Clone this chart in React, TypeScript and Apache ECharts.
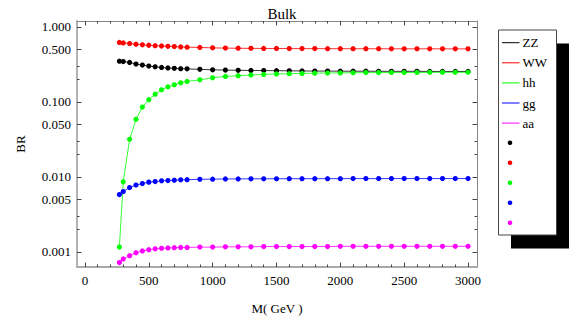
import React, { useEffect, useRef } from "react";
import * as echarts from "echarts";

const masses = [270, 300, 350, 400, 450, 500, 550, 600, 650, 700, 750, 800, 900, 1000, 1100, 1200, 1300, 1400, 1500, 1600, 1700, 1800, 1900, 2000, 2100, 2200, 2300, 2400, 2500, 2600, 2700, 2800, 2900, 3000];

const brZZ = [0.350, 0.346, 0.336, 0.320, 0.310, 0.301, 0.294, 0.288, 0.284, 0.281, 0.278, 0.276, 0.272, 0.268, 0.266, 0.264, 0.263, 0.262, 0.261, 0.260, 0.259, 0.258, 0.258, 0.257, 0.257, 0.257, 0.256, 0.256, 0.256, 0.256, 0.255, 0.255, 0.255, 0.255];
const brWW = [0.621, 0.612, 0.601, 0.589, 0.578, 0.570, 0.563, 0.557, 0.552, 0.547, 0.542, 0.538, 0.532, 0.526, 0.522, 0.520, 0.518, 0.517, 0.516, 0.515, 0.514, 0.514, 0.513, 0.513, 0.512, 0.512, 0.512, 0.511, 0.511, 0.511, 0.511, 0.510, 0.510, 0.510];
const brHH = [0.00116, 0.0086, 0.0318, 0.0587, 0.0855, 0.107, 0.127, 0.145, 0.159, 0.169, 0.180, 0.188, 0.197, 0.210, 0.219, 0.224, 0.229, 0.233, 0.236, 0.238, 0.240, 0.242, 0.243, 0.244, 0.245, 0.246, 0.246, 0.247, 0.247, 0.247, 0.248, 0.248, 0.248, 0.248];
const brGG = [0.00583, 0.00639, 0.00723, 0.00778, 0.00817, 0.00853, 0.00869, 0.00888, 0.00896, 0.00906, 0.00915, 0.00918, 0.00930, 0.00935, 0.00940, 0.00942, 0.00944, 0.00945, 0.00946, 0.00947, 0.00948, 0.00948, 0.00949, 0.00949, 0.00950, 0.00950, 0.00950, 0.00951, 0.00951, 0.00951, 0.00951, 0.00952, 0.00952, 0.00952];
const brAA = [0.000721, 0.000807, 0.000893, 0.000979, 0.00103, 0.00107, 0.00110, 0.00112, 0.00113, 0.00114, 0.00115, 0.00115, 0.00116, 0.00116, 0.00117, 0.00117, 0.00117, 0.00118, 0.00118, 0.00118, 0.00118, 0.00118, 0.00118, 0.00119, 0.00119, 0.00119, 0.00119, 0.00119, 0.00119, 0.00119, 0.00119, 0.00119, 0.00119, 0.00119];

const seriesNames = ["ZZ", "WW", "hh", "gg", "aa"];
const seriesColors = ["#000000", "#ff0000", "#00ff00", "#0000ff", "#ff00ff"];
const seriesValues = [brZZ, brWW, brHH, brGG, brAA];

const xMajorTicks = [0, 500, 1000, 1500, 2000, 2500, 3000];
const xMinorTicks = Array.from({ length: 31 }, (_, i) => i * 100);
const yMajorTicks = [0.001, 0.005, 0.01, 0.05, 0.1, 0.5, 1];
const yMinorTicks = [0.002, 0.003, 0.02, 0.03, 0.2, 0.3];

const titleText = "Bulk";
const xName = "M( GeV )";
const yName = "BR";

const FONT = "Liberation Serif";
const X_MIN = -62;
const X_MAX = 3070;
const Y_MIN = 0.00063;
const Y_MAX = 1.2;

export default function App() {
  const ref = useRef<HTMLDivElement>(null);
  useEffect(() => {
    if (!ref.current) return;
    const chart = echarts.init(ref.current, undefined, { renderer: "svg" });

    const tickStyle = { color: "#444", width: 1 };

    const xAxisBase = (pos: string, ticks: number[], len: number, withLabel: boolean, line: any) => ({
      type: "value",
      position: pos,
      min: X_MIN,
      max: X_MAX,
      splitLine: { show: false },
      axisLine: line,
      axisTick: { show: true, inside: true, length: len, customValues: ticks, lineStyle: tickStyle },
      axisLabel: withLabel
        ? {
            show: true,
            customValues: xMajorTicks,
            margin: 7,
            color: "#000",
            fontFamily: FONT,
            fontSize: 13,
            formatter: (v: number) => String(Math.round(v)),
          }
        : { show: false },
    });
    const yAxisBase = (pos: string, ticks: number[], len: number, withLabel: boolean, line: any) => ({
      type: "log",
      logBase: 10,
      position: pos,
      min: Y_MIN,
      max: Y_MAX,
      splitLine: { show: false },
      axisLine: line,
      axisTick: { show: true, inside: true, length: len, customValues: ticks, lineStyle: tickStyle },
      axisLabel: withLabel
        ? {
            show: true,
            customValues: yMajorTicks,
            margin: 6,
            color: "#000",
            fontFamily: FONT,
            fontSize: 13,
            formatter: (v: number) => Number(v).toFixed(3),
          }
        : { show: false },
    });

    const thickLine = { show: true, onZero: false, lineStyle: { color: "#aaaaaa", width: 1.8 } };
    const thinLine = { show: true, onZero: false, lineStyle: { color: "#888888", width: 1 } };
    const noLine = { show: false, onZero: false };

    const xAxes: any[] = [
      {
        ...xAxisBase("bottom", xMajorTicks, 4.5, true, thickLine),
        name: xName,
        nameLocation: "middle",
        nameGap: 35,
        nameTextStyle: { color: "#000", fontFamily: FONT, fontSize: 13 },
      },
      xAxisBase("top", xMajorTicks, 4.5, false, thinLine),
      xAxisBase("bottom", xMinorTicks, 2.5, false, noLine),
      xAxisBase("top", xMinorTicks, 2.5, false, noLine),
    ];
    const yAxes: any[] = [
      {
        ...yAxisBase("left", yMajorTicks, 4.5, true, thickLine),
        name: yName,
        nameLocation: "middle",
        nameGap: 50,
        nameRotate: 90,
        nameTextStyle: { color: "#000", fontFamily: FONT, fontSize: 13 },
      },
      yAxisBase("right", yMajorTicks, 4.5, false, thinLine),
      yAxisBase("left", yMinorTicks, 2.5, false, noLine),
      yAxisBase("right", yMinorTicks, 2.5, false, noLine),
    ];

    const series: any[] = [];
    seriesValues.forEach((vals, i) => {
      series.push({
        name: seriesNames[i],
        type: "line",
        xAxisIndex: 0,
        yAxisIndex: 0,
        data: masses.map((m, j) => [m, vals[j]]),
        showSymbol: false,
        symbol: "none",
        lineStyle: { color: seriesColors[i], width: 1, opacity: 0.8 },
        itemStyle: { color: seriesColors[i] },
        z: 2,
        silent: true,
      });
    });
    seriesValues.forEach((vals, i) => {
      series.push({
        name: seriesNames[i] + " points",
        type: "scatter",
        xAxisIndex: 0,
        yAxisIndex: 0,
        data: masses.map((m, j) => [m, vals[j]]),
        symbol: "circle",
        symbolSize: 5.2,
        itemStyle: { color: seriesColors[i], opacity: 1 },
        z: 3,
        silent: true,
      });
    });

    // legend built from graphics
    const lgX = 498.5;
    const lgY = 30;
    const lgW = 58;
    const lgH = 205;
    const legendChildren: any[] = [
      { type: "rect", shape: { x: lgX + 12.5, y: lgY + 13.5, width: lgW, height: lgH }, style: { fill: "#000" } },
      { type: "rect", shape: { x: lgX, y: lgY, width: lgW, height: lgH }, style: { fill: "#fff", stroke: "#444", lineWidth: 1 } },
    ];
    seriesNames.forEach((n, i) => {
      const yy = lgY + 12.7 + i * 20.1;
      legendChildren.push({
        type: "line",
        shape: { x1: lgX + 3.5, y1: yy, x2: lgX + 21, y2: yy },
        style: { stroke: seriesColors[i], lineWidth: 1 },
      });
      legendChildren.push({
        type: "text",
        style: { x: lgX + 24, y: yy, text: n, fill: "#000", font: `13px "${FONT}"`, verticalAlign: "middle", align: "left" },
      });
    });
    seriesNames.forEach((n, i) => {
      const yy = lgY + 112.7 + i * 20;
      legendChildren.push({
        type: "circle",
        shape: { cx: lgX + 11.5, cy: yy, r: 2.3 },
        style: { fill: seriesColors[i] },
      });
    });

    chart.setOption({
      animation: false,
      backgroundColor: "#fff",
      title: {
        text: titleText,
        left: 277,
        top: 1,
        textAlign: "center",
        textStyle: { fontFamily: FONT, fontSize: 15, fontWeight: "normal", color: "#000" },
      },
      grid: { left: 77, right: 104, top: 21, bottom: 61, containLabel: false },
      xAxis: xAxes,
      yAxis: yAxes,
      series,
      graphic: [{ type: "group", children: legendChildren }],
    });

    return () => chart.dispose();
  }, []);

  return (
    <div
      ref={ref}
      style={{ position: "absolute", left: 0, top: 0, width: 581, height: 328, background: "#fff" }}
    />
  );
}
